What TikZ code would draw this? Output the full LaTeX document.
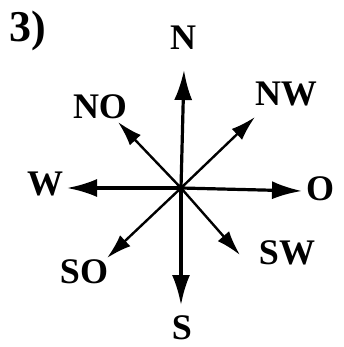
\documentclass[tikz,border=0pt]{standalone}
\usepackage{fontspec}
\setmainfont{Liberation Serif}
\usetikzlibrary{arrows.meta,positioning}
\tikzset{
  dirlbl/.style={font=\fontsize{36}{36}\selectfont\bfseries, inner sep=0pt},
  mainarr/.style={-{Latex[length=30pt,width=18pt]}, line width=3.2pt},
  diagarr/.style={-{Latex[length=25pt,width=15pt]}, line width=2.4pt}
}
\begin{document}
\begin{tikzpicture}[x=1pt,y=-1pt]
\useasboundingbox (0,0) rectangle (343,347);
\node[font=\fontsize{44}{44}\selectfont\bfseries, inner sep=0pt] (num) at (28,31) {3)};
\coordinate (c) at (181,188);
\coordinate (tn) at (184,70);
\coordinate (ts) at (181,305);
\coordinate (tw) at (67,188);
\coordinate (to) at (302,191);
\coordinate (tnw) at (255,117);
\coordinate (tno) at (118,122);
\coordinate (tsw) at (240,255);
\coordinate (tso) at (107,258);
\node[dirlbl] (n) at (183,38) {N};
\node[dirlbl] (s) at (182,328) {S};
\node[dirlbl] (w) at (45,184) {W};
\node[dirlbl] (o) at (320,189) {O};
\node[dirlbl] (nw) at (286,94) {NW};
\node[dirlbl] (no) at (100,107) {NO};
\node[dirlbl] (sw) at (287,253) {SW};
\node[dirlbl] (so) at (84,272) {SO};
\draw[mainarr] (c)--(tn); \draw[mainarr] (c)--(ts);
\draw[mainarr] (c)--(tw); \draw[mainarr] (c)--(to);
\draw[diagarr] (c)--(tnw); \draw[diagarr] (c)--(tno);
\draw[diagarr] (c)--(tsw); \draw[diagarr] (c)--(tso);
\end{tikzpicture}
\end{document}
